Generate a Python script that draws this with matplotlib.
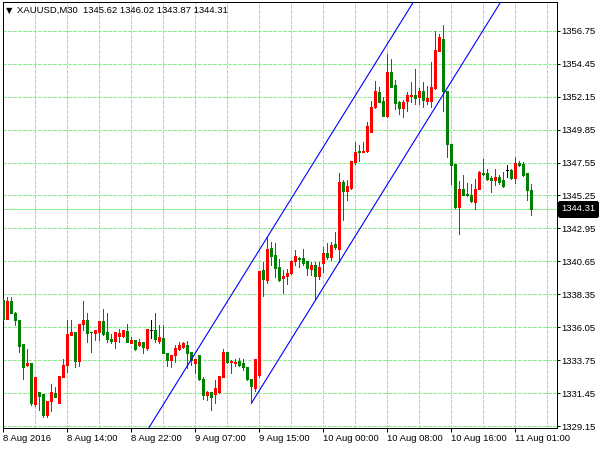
import matplotlib
matplotlib.use("Agg")
import matplotlib.pyplot as plt
import numpy as np

# XAUUSD M30 bars (O, H, L, C), oldest first
opens = [1337.95, 1336.66, 1337.89, 1337.05, 1336.59, 1334.87, 1333.38, 1333.52, 1330.69, 1331.55,
         1331.36, 1329.92, 1330.92, 1331.43, 1330.78, 1332.59, 1333.41, 1335.50, 1335.73, 1333.71,
         1336.31, 1336.59, 1335.73, 1335.66, 1335.73, 1336.50, 1335.73, 1335.26, 1335.10, 1335.43,
         1335.43, 1335.80, 1334.96, 1335.15, 1334.80, 1335.03, 1334.61, 1335.89, 1335.89, 1335.10,
         1335.33, 1334.22, 1333.75, 1334.10, 1334.50, 1334.68, 1334.80, 1334.34, 1333.57, 1334.10,
         1332.47, 1331.31, 1331.50, 1331.38, 1331.54, 1332.59, 1334.33, 1333.63, 1333.52, 1333.70,
         1333.52, 1333.29, 1332.47, 1331.78, 1332.70, 1340.07, 1339.32, 1341.60, 1341.07, 1340.25,
         1339.51, 1339.60, 1339.84, 1340.67, 1340.90, 1340.90, 1340.65, 1340.14, 1340.37, 1339.60,
         1340.53, 1341.23, 1340.95, 1341.88, 1341.53, 1346.18, 1345.55, 1345.79, 1347.57, 1348.39,
         1348.27, 1348.34, 1349.66, 1351.41, 1352.45, 1351.87, 1350.83, 1353.85, 1352.99, 1351.75,
         1351.36, 1351.83, 1352.22, 1352.27, 1352.10, 1352.57, 1351.87, 1351.87, 1352.75, 1355.36,
         1356.17, 1352.52, 1348.85, 1347.46, 1344.48, 1345.72, 1345.37, 1345.25, 1344.79, 1345.72,
         1346.83, 1346.81, 1346.48, 1346.30, 1346.57, 1346.30, 1347.04, 1347.04, 1346.48, 1347.50,
         1347.46, 1346.80, 1345.62]
highs = [1338.00, 1338.14, 1338.19, 1337.08, 1336.59, 1334.87, 1334.50, 1333.52, 1332.55, 1331.55,
         1331.36, 1330.92, 1332.08, 1331.85, 1332.64, 1333.85, 1336.54, 1336.54, 1335.73, 1336.31,
         1337.89, 1337.01, 1335.75, 1335.84, 1336.50, 1337.35, 1337.01, 1335.61, 1335.73, 1335.96,
         1335.84, 1336.26, 1335.38, 1335.15, 1335.20, 1335.03, 1335.96, 1336.54, 1337.01, 1336.19,
         1336.19, 1334.22, 1334.10, 1334.80, 1335.03, 1335.03, 1335.10, 1334.34, 1333.80, 1334.10,
         1332.60, 1331.60, 1331.55, 1332.36, 1332.63, 1334.52, 1334.33, 1333.75, 1333.80, 1333.87,
         1333.80, 1333.29, 1332.47, 1333.80, 1339.95, 1340.60, 1342.34, 1341.99, 1341.93, 1340.83,
         1340.02, 1340.14, 1340.72, 1341.42, 1340.95, 1341.53, 1340.65, 1340.60, 1340.60, 1340.60,
         1341.65, 1341.93, 1341.99, 1342.69, 1346.81, 1346.30, 1346.30, 1347.69, 1348.97, 1348.74,
         1348.97, 1350.36, 1351.87, 1353.27, 1352.80, 1352.10, 1355.12, 1354.77, 1353.31, 1351.87,
         1351.92, 1352.45, 1353.15, 1354.08, 1352.75, 1353.15, 1352.92, 1354.54, 1356.75, 1356.52,
         1357.17, 1352.52, 1348.85, 1347.46, 1346.23, 1346.71, 1346.11, 1346.02, 1346.41, 1346.99,
         1347.81, 1347.11, 1346.60, 1347.11, 1346.71, 1346.88, 1347.41, 1347.11, 1347.92, 1347.64,
         1347.57, 1346.85, 1346.02]
lows = [1336.55, 1336.60, 1337.02, 1336.19, 1334.34, 1332.41, 1333.34, 1330.62, 1330.55, 1330.27,
        1329.81, 1329.76, 1330.22, 1331.15, 1330.78, 1332.59, 1332.94, 1335.50, 1333.24, 1333.34,
        1335.84, 1335.03, 1334.34, 1335.15, 1335.15, 1335.50, 1334.99, 1334.96, 1334.57, 1334.99,
        1335.38, 1335.03, 1334.92, 1334.45, 1334.73, 1334.22, 1334.45, 1335.33, 1335.03, 1334.92,
        1334.22, 1333.34, 1333.29, 1333.64, 1334.45, 1334.57, 1333.17, 1333.41, 1332.83, 1332.36,
        1331.01, 1331.00, 1330.27, 1330.73, 1331.43, 1332.59, 1333.56, 1332.87, 1333.33, 1333.35,
        1333.05, 1332.36, 1330.80, 1331.60, 1332.60, 1338.21, 1339.14, 1340.37, 1339.56, 1339.28,
        1338.44, 1339.09, 1339.79, 1340.37, 1340.25, 1340.37, 1339.67, 1339.67, 1337.93, 1339.44,
        1339.91, 1340.83, 1340.72, 1341.53, 1340.60, 1343.51, 1344.90, 1345.72, 1347.46, 1347.69,
        1348.27, 1348.27, 1349.66, 1351.36, 1351.75, 1350.83, 1350.76, 1352.85, 1351.29, 1350.94,
        1350.71, 1351.17, 1351.75, 1351.64, 1351.64, 1351.41, 1351.64, 1351.41, 1352.68, 1355.36,
        1351.17, 1347.97, 1346.06, 1344.39, 1342.58, 1345.25, 1345.20, 1344.80, 1344.32, 1345.72,
        1346.71, 1346.30, 1345.48, 1345.95, 1346.06, 1345.83, 1346.53, 1346.41, 1346.11, 1347.30,
        1346.60, 1344.95, 1343.87]
closes = [1336.63, 1337.86, 1337.05, 1336.59, 1334.73, 1333.29, 1333.52, 1330.73, 1332.55, 1331.27,
          1329.92, 1330.92, 1331.55, 1331.20, 1332.64, 1333.41, 1335.61, 1335.73, 1333.71, 1336.31,
          1336.59, 1335.66, 1335.70, 1335.84, 1336.50, 1335.61, 1335.26, 1335.10, 1335.73, 1335.66,
          1335.84, 1335.03, 1335.15, 1334.50, 1335.03, 1334.68, 1335.96, 1335.89, 1335.24, 1335.38,
          1334.22, 1333.75, 1334.10, 1334.57, 1334.80, 1334.96, 1334.27, 1333.75, 1333.80, 1332.45,
          1331.31, 1331.54, 1331.19, 1331.78, 1332.63, 1334.33, 1333.63, 1333.70, 1333.63, 1333.40,
          1333.29, 1332.47, 1331.94, 1333.80, 1339.95, 1339.39, 1341.53, 1341.00, 1340.21, 1339.37,
          1339.60, 1339.84, 1340.65, 1341.00, 1340.83, 1340.53, 1340.18, 1340.37, 1339.60, 1340.25,
          1341.23, 1340.95, 1341.76, 1341.65, 1346.18, 1345.53, 1345.88, 1347.69, 1348.32, 1348.27,
          1348.39, 1350.13, 1351.45, 1352.52, 1351.75, 1350.83, 1353.85, 1352.85, 1351.69, 1351.36,
          1351.80, 1352.29, 1352.29, 1352.03, 1352.57, 1351.92, 1352.03, 1352.85, 1355.40, 1356.29,
          1352.57, 1348.81, 1347.39, 1344.48, 1345.72, 1345.25, 1345.30, 1344.83, 1345.72, 1346.88,
          1346.76, 1346.41, 1346.30, 1346.57, 1346.18, 1345.88, 1347.04, 1346.48, 1347.50, 1347.36,
          1346.71, 1345.60, 1344.31]

time_labels = ['8 Aug 2016', '8 Aug 14:00', '8 Aug 22:00', '9 Aug 07:00', '9 Aug 15:00',
               '10 Aug 00:00', '10 Aug 08:00', '10 Aug 16:00', '11 Aug 01:00']
label_bars = [0, 16, 32, 48, 64, 80, 96, 112, 128]
price_ticks = [1329.15 + 2.3 * k for k in range(13)]

# equidistant channel: base line through two lows, parallel through a high
chan_base = [(62, 1330.73), (84, 1340.62)]
chan_top = (66, 1342.34)

last_price = closes[-1]
header = 'XAUUSD,M30  1345.62 1346.02 1343.87 1344.31'

px = 0.72  # one pixel in points at dpi=100
plt.rcParams['font.family'] = ['Liberation Sans', 'DejaVu Sans']
plt.rcParams['font.size'] = 6.8
plt.rcParams['lines.antialiased'] = False
plt.rcParams['patch.antialiased'] = False

fig = plt.figure(figsize=(6, 4.5), dpi=100)
ax = fig.add_axes([0.0045, 0.05, 0.923, 0.9456])

o = np.array(opens)
c = np.array(closes)
h = np.array(highs)
l = np.array(lows)
x = np.arange(len(o))

cols = np.where(c > o, '#ff0000', np.where(c < o, '#008000', '#000000'))

ax.vlines(x, l, h, colors=cols, linewidth=px, zorder=3, antialiased=False)
ax.bar(x, np.abs(c - o), bottom=np.minimum(o, c), width=0.55,
       color=cols, edgecolor=cols, linewidth=px, zorder=4)

# channel lines (thin, smoothed so the diagonals stay one pixel wide)
slope = (chan_base[1][1] - chan_base[0][1]) / (chan_base[1][0] - chan_base[0][0])
xe = 145
ax.plot([chan_base[0][0], xe], [chan_base[0][1], chan_base[0][1] + slope * (xe - chan_base[0][0])],
        color='#0000ff', linewidth=0.8, zorder=5, antialiased=True)
ax.axline(chan_top, slope=slope, color='#0000ff', linewidth=0.8, zorder=5, antialiased=True)

# bid line
ax.axhline(last_price, color='#90ee90', linewidth=px, zorder=2)

ax.set_xlim(-0.15, 138.3)
ax.set_ylim(1329.05, 1358.76)

ax.set_xticks(label_bars)
ax.set_xticklabels(time_labels, ha='left')
ax.set_xticks(np.arange(8, 139, 8), minor=True)
ax.set_yticks(price_ticks)
ax.set_yticklabels(['%.2f' % v for v in price_ticks])
ax.yaxis.tick_right()

ax.tick_params(axis='x', which='major', length=2.9, width=px, pad=1.5, colors='black')
ax.tick_params(axis='x', which='minor', length=0)
ax.tick_params(axis='y', length=2.2, width=px, pad=1.2, colors='black')

ax.grid(True, axis='x', which='both', color='#90ee90', linestyle=(0, (4, 2)), linewidth=px, zorder=0)
ax.grid(True, axis='y', color='#90ee90', linestyle=(0, (4, 2)), linewidth=px, zorder=0)
ax.set_axisbelow(True)

for s in ax.spines.values():
    s.set_color('black')
    s.set_linewidth(px)

# current price box on the price scale
ax.annotate('%.2f' % last_price, xy=(1.0, last_price), xycoords=('axes fraction', 'data'),
            xytext=(4.5, 0), textcoords='offset pixels', va='center', ha='left', color='white',
            bbox=dict(boxstyle='square,pad=0.25', fc='black', ec='black'), zorder=10,
            annotation_clip=False)

fig.text(6 / 600, 1 - 10.5 / 450, '▼', family='DejaVu Sans', fontsize=6, va='center', ha='left')
fig.text(17 / 600, 1 - 10 / 450, header, va='center', ha='left')

fig.savefig('out.png', dpi=100, facecolor='white')
